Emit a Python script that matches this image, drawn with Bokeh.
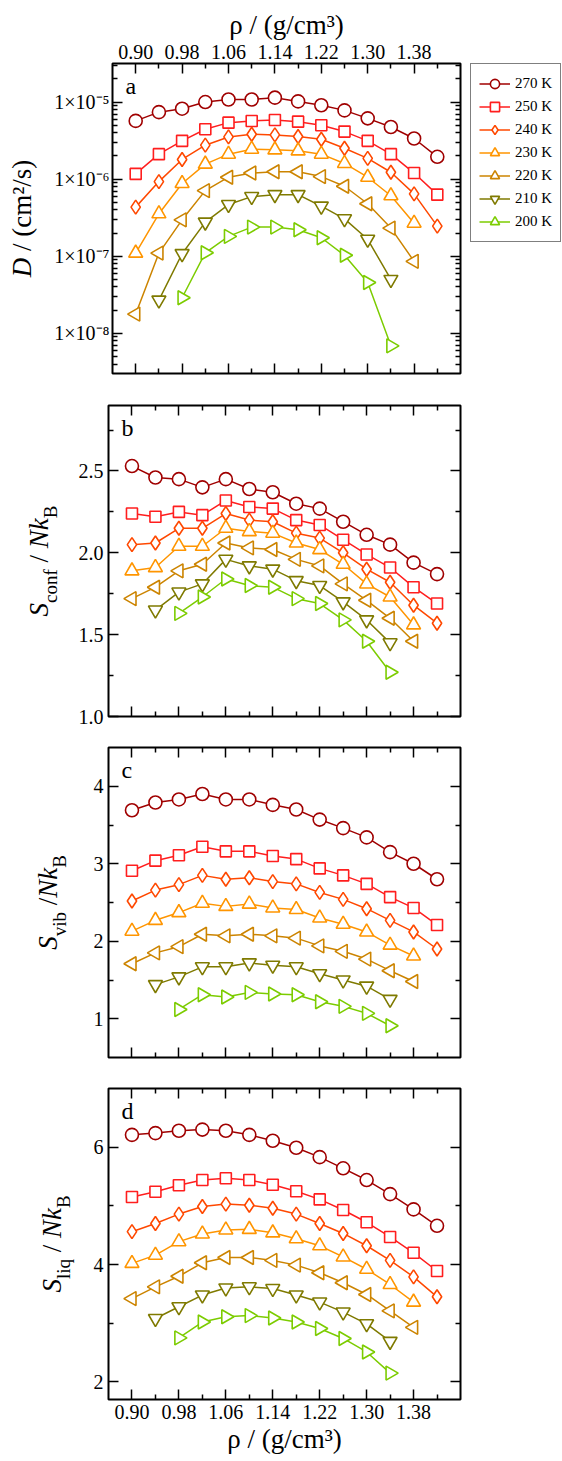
import math
from bokeh.plotting import figure
from bokeh.models import (FixedTicker, LinearAxis, LogAxis, Legend, LegendItem, Label,
                          Range1d, CustomJSTickFormatter)
from bokeh.layouts import column, row
from bokeh.embed import file_html
from bokeh.resources import INLINE

# ---------------- data ----------------
TEMPS = ["270 K", "250 K", "240 K", "230 K", "220 K", "210 K", "200 K"]

RHO_270 = [0.90, 0.94, 0.98, 1.02, 1.06, 1.10, 1.14, 1.18, 1.22, 1.26, 1.30, 1.34, 1.38, 1.42]
RHO_250 = [0.90, 0.94, 0.98, 1.02, 1.06, 1.10, 1.14, 1.18, 1.22, 1.26, 1.30, 1.34, 1.38, 1.42]
RHO_240 = [0.90, 0.94, 0.98, 1.02, 1.06, 1.10, 1.14, 1.18, 1.22, 1.26, 1.30, 1.34, 1.38, 1.42]
RHO_230 = [0.90, 0.94, 0.98, 1.02, 1.06, 1.10, 1.14, 1.18, 1.22, 1.26, 1.30, 1.34, 1.38]
RHO_220 = [0.90, 0.94, 0.98, 1.02, 1.06, 1.10, 1.14, 1.18, 1.22, 1.26, 1.30, 1.34, 1.38]
RHO_210 = [0.94, 0.98, 1.02, 1.06, 1.10, 1.14, 1.18, 1.22, 1.26, 1.30, 1.34]
RHO_200 = [0.98, 1.02, 1.06, 1.10, 1.14, 1.18, 1.22, 1.26, 1.30, 1.34]

# D / (cm^2/s)
D_270 = [5.7e-6, 7.4e-6, 8.2e-6, 1.0e-5, 1.08e-5, 1.08e-5, 1.14e-5, 1.02e-5, 9.1e-6, 7.8e-6, 6.15e-6, 4.75e-6, 3.37e-6, 1.95e-6]
D_250 = [1.17e-6, 2.11e-6, 3.14e-6, 4.44e-6, 5.41e-6, 5.69e-6, 5.86e-6, 5.57e-6, 5.0e-6, 4.14e-6, 3.14e-6, 2.11e-6, 1.2e-6, 6.3e-7]
D_240 = [4.34e-7, 9.3e-7, 1.8e-6, 2.76e-6, 3.53e-6, 3.83e-6, 3.75e-6, 3.57e-6, 3.3e-6, 2.52e-6, 1.86e-6, 1.23e-6, 6.44e-7, 2.46e-7]
D_230 = [1.1e-7, 3.56e-7, 8.8e-7, 1.57e-6, 2.11e-6, 2.45e-6, 2.4e-6, 2.33e-6, 2.11e-6, 1.6e-6, 1.06e-6, 6.1e-7, 2.69e-7]
D_220 = [1.78e-8, 1.1e-7, 2.97e-7, 7.1e-7, 1.06e-6, 1.2e-6, 1.25e-6, 1.25e-6, 1.08e-6, 8.1e-7, 4.8e-7, 2.32e-7, 8.6e-8]
D_210 = [2.7e-8, 1.08e-7, 2.77e-7, 4.69e-7, 5.94e-7, 6.3e-7, 6.3e-7, 4.46e-7, 3.06e-7, 1.66e-7, 5.0e-8]
D_200 = [2.9e-8, 1.11e-7, 1.81e-7, 2.39e-7, 2.39e-7, 2.21e-7, 1.74e-7, 1.03e-7, 4.57e-8, 6.9e-9]

# S_conf / N k_B
SC_270 = [2.53, 2.46, 2.45, 2.40, 2.45, 2.39, 2.37, 2.30, 2.27, 2.19, 2.11, 2.05, 1.94, 1.87]
SC_250 = [2.24, 2.22, 2.25, 2.23, 2.32, 2.28, 2.27, 2.20, 2.17, 2.08, 1.99, 1.91, 1.79, 1.69]
SC_240 = [2.05, 2.06, 2.15, 2.15, 2.24, 2.20, 2.19, 2.12, 2.09, 2.00, 1.90, 1.82, 1.68, 1.57]
SC_230 = [1.89, 1.91, 2.04, 2.04, 2.15, 2.13, 2.12, 2.06, 2.02, 1.93, 1.81, 1.73, 1.56]
SC_220 = [1.72, 1.79, 1.89, 1.93, 2.06, 2.03, 2.02, 1.96, 1.92, 1.81, 1.71, 1.60, 1.46]
SC_210 = [1.65, 1.76, 1.81, 1.96, 1.92, 1.90, 1.83, 1.80, 1.70, 1.59, 1.45]
SC_200 = [1.63, 1.73, 1.84, 1.80, 1.79, 1.72, 1.69, 1.59, 1.46, 1.27]

# S_vib / N k_B
SV_270 = [3.69, 3.79, 3.83, 3.90, 3.83, 3.83, 3.76, 3.70, 3.57, 3.46, 3.34, 3.15, 3.00, 2.80]
SV_250 = [2.91, 3.04, 3.11, 3.22, 3.16, 3.16, 3.10, 3.06, 2.94, 2.85, 2.74, 2.57, 2.43, 2.21]
SV_240 = [2.52, 2.66, 2.73, 2.85, 2.80, 2.82, 2.77, 2.74, 2.63, 2.54, 2.42, 2.27, 2.12, 1.90]
SV_230 = [2.13, 2.27, 2.37, 2.49, 2.45, 2.48, 2.43, 2.41, 2.30, 2.22, 2.12, 1.95, 1.81]
SV_220 = [1.71, 1.85, 1.93, 2.09, 2.07, 2.09, 2.07, 2.04, 1.94, 1.87, 1.77, 1.62, 1.48]
SV_210 = [1.44, 1.54, 1.67, 1.67, 1.72, 1.69, 1.67, 1.58, 1.50, 1.42, 1.25]
SV_200 = [1.12, 1.31, 1.28, 1.34, 1.32, 1.31, 1.22, 1.16, 1.07, 0.91]

# S_liq / N k_B
SL_270 = [6.21, 6.24, 6.28, 6.30, 6.28, 6.21, 6.11, 5.99, 5.83, 5.64, 5.44, 5.20, 4.94, 4.66]
SL_250 = [5.15, 5.24, 5.35, 5.44, 5.47, 5.44, 5.36, 5.25, 5.11, 4.93, 4.72, 4.47, 4.20, 3.89]
SL_240 = [4.56, 4.70, 4.86, 4.99, 5.03, 5.01, 4.96, 4.86, 4.70, 4.53, 4.32, 4.07, 3.79, 3.45]
SL_230 = [4.02, 4.16, 4.39, 4.52, 4.59, 4.60, 4.54, 4.44, 4.32, 4.13, 3.92, 3.66, 3.36]
SL_220 = [3.42, 3.62, 3.80, 4.03, 4.12, 4.12, 4.07, 3.99, 3.86, 3.69, 3.49, 3.21, 2.93]
SL_210 = [3.08, 3.28, 3.48, 3.60, 3.62, 3.59, 3.48, 3.36, 3.19, 2.99, 2.69]
SL_200 = [2.75, 3.02, 3.11, 3.13, 3.09, 3.02, 2.91, 2.74, 2.51, 2.15]

# ticks / labels
X_MAJOR = [0.90, 0.98, 1.06, 1.14, 1.22, 1.30, 1.38]
X_MAJOR_LABELS = ["0.90", "0.98", "1.06", "1.14", "1.22", "1.30", "1.38"]
X_MINOR = [0.94, 1.02, 1.10, 1.18, 1.26, 1.34, 1.42]
X_LABEL = "ρ / (g/cm³)"
D_TICKS = [1e-8, 1e-7, 1e-6, 1e-5]
D_TICK_LABELS = ["1×10⁻⁸", "1×10⁻⁷", "1×10⁻⁶", "1×10⁻⁵"]
SC_TICKS = [1.0, 1.5, 2.0, 2.5]
SC_TICK_LABELS = ["1.0", "1.5", "2.0", "2.5"]
SV_TICKS = [1, 2, 3, 4]
SV_TICK_LABELS = ["1", "2", "3", "4"]
SL_TICKS = [2, 4, 6]
SL_TICK_LABELS = ["2", "4", "6"]

RHOS = [RHO_270, RHO_250, RHO_240, RHO_230, RHO_220, RHO_210, RHO_200]
D_ALL = [D_270, D_250, D_240, D_230, D_220, D_210, D_200]

# ---------------- styles ----------------
COLORS = ["#a00000", "#ff1e1e", "#ff4800", "#ff9500", "#cc8400", "#7f7a00", "#7ccc00"]
MARKERS = ["circle", "square", "diamond", "triangle", "triangle", "inverted_triangle", "triangle"]
ANGLES = [0, 0, 0, 0, math.pi / 2, 0, -math.pi / 2]
SIZES = [13, 11, 14, 14, 14, 14, 14]
FONT = "Liberation Serif"
FRAME_W = 352
RB = 10
NB = "\u00a0"
TITLE_PX = 27
SUB_PX = 19

WIDTHS = {" ": 250, NB: 250, "/": 278, "(": 333, ")": 333, "c": 444, "m": 778, "s": 389,
          "o": 500, "n": 500, "f": 333, "v": 500, "i": 278, "b": 500, "l": 278, "q": 500,
          "B": 667, "²": 300, "D": 722, "S": 556, "N": 722, "k": 500}
WIDTHS_IT = {"D": 722, "S": 500, "N": 667, "k": 444}


def text_w(s, size, italic):
    tot = 0
    for ch in s:
        if italic and ch in WIDTHS_IT:
            tot += WIDTHS_IT[ch]
        else:
            tot += WIDTHS.get(ch, 500)
    return tot * size / 1000.0


def style_axis(ax, labels=True):
    ax.major_tick_in = 10
    ax.major_tick_out = 0
    ax.minor_tick_in = 5
    ax.minor_tick_out = 0
    ax.major_tick_line_width = 1.5
    ax.minor_tick_line_width = 1.5
    ax.major_tick_line_color = "black"
    ax.minor_tick_line_color = "black"
    ax.axis_line_color = None
    ax.major_label_text_font = FONT
    ax.major_label_text_color = "black"
    ax.axis_label_text_font = FONT
    ax.axis_label_text_font_style = "normal"
    ax.axis_label_text_font_size = f"{TITLE_PX}px"
    ax.axis_label_text_color = "black"
    if labels:
        ax.major_label_text_font_size = "20px"
        ax.major_label_standoff = 5
    else:
        ax.formatter = CustomJSTickFormatter(code="return ''")
        ax.major_label_text_font_size = "1px"
        ax.major_label_standoff = 0


def make_fig(height, top, bottom, left, y_range, y_ticks, y_minor, y_labels, log=False,
             x_labels_where=None):
    p = figure(width=left + FRAME_W + RB, height=height, x_range=Range1d(0.86, 1.46),
               y_range=y_range, y_axis_type="log" if log else "linear",
               x_axis_location="above" if x_labels_where == "above" else "below",
               output_backend="svg", toolbar_location=None,
               min_border_left=left, min_border_right=RB,
               min_border_top=top, min_border_bottom=bottom)
    p.grid.visible = False
    p.outline_line_color = "black"
    p.outline_line_width = 2
    p.background_fill_color = "white"
    p.border_fill_color = "white"

    xt = FixedTicker(ticks=X_MAJOR, minor_ticks=X_MINOR)
    yt = FixedTicker(ticks=y_ticks, minor_ticks=y_minor)

    xa = p.xaxis[0]
    xa.ticker = xt
    if x_labels_where is not None:
        style_axis(xa, True)
        xa.major_label_overrides = {t: l for t, l in zip(X_MAJOR, X_MAJOR_LABELS)}
        xa.axis_label = X_LABEL
        xa.axis_label_standoff = 2
    else:
        style_axis(xa, False)
    other = "below" if x_labels_where == "above" else "above"
    xa2 = LinearAxis(ticker=xt)
    style_axis(xa2, False)
    p.add_layout(xa2, other)

    ya = p.yaxis[0]
    ya.ticker = yt
    style_axis(ya, True)
    if log:
        ya.major_label_standoff = 3
    ya.major_label_overrides = {t: l for t, l in zip(y_ticks, y_labels)}
    ya2 = (LogAxis if log else LinearAxis)(ticker=yt)
    style_axis(ya2, False)
    p.add_layout(ya2, "right")
    return p


def blank_fig(width, height, x_range=(0, 1)):
    f = figure(width=width, height=height, x_range=Range1d(*x_range), y_range=Range1d(0, 1),
               x_axis_type=None, y_axis_type=None, output_backend="svg",
               toolbar_location=None, min_border=0)
    f.min_border_left = 0
    f.min_border_right = 0
    f.min_border_top = 0
    f.min_border_bottom = 0
    f.outline_line_color = None
    f.background_fill_color = "white"
    f.border_fill_color = "white"
    return f


def add_series(p, ys):
    for i, (xs, yv) in enumerate(zip(RHOS, ys)):
        c = COLORS[i]
        p.line(xs, yv, line_color=c, line_width=1.5)
        p.scatter(xs, yv, marker=MARKERS[i], angle=ANGLES[i], size=SIZES[i],
                  line_color=c, fill_color="white", line_width=1.6)


def add_letter(p, letter, frame_h):
    p.add_layout(Label(x=13, y=frame_h - 9, x_units="screen", y_units="screen", text=letter,
                       text_font=FONT, text_font_size="24px", text_baseline="top",
                       text_align="left", text_color="black"))


def ylabel_fig(width, height, pieces, xbase):
    f = blank_fig(width, height)
    total = sum(text_w(s, sz, st == "italic") for s, sz, st, dx in pieces)
    off = -total / 2.0
    for s, sz, st, dx in pieces:
        f.add_layout(Label(x=xbase + dx, y=0.5, x_units="screen", y_units="data",
                           y_offset=off, text=s,
                           angle=math.pi / 2, text_font=FONT, text_font_size=f"{sz}px",
                           text_font_style=st, text_align="left",
                           text_baseline="alphabetic", text_color="black"))
        off += text_w(s, sz, st == "italic")
    return f


def legend_fig(width, height):
    # renderers sit outside this figure's visible x range; only their legend glyphs show
    f = blank_fig(width, height, x_range=(10, 11))
    items = []
    for i, t in enumerate(TEMPS):
        c = COLORS[i]
        lr = f.line(RHOS[i], [0.5] * len(RHOS[i]), line_color=c, line_width=1.5)
        sr = f.scatter(RHOS[i], [0.5] * len(RHOS[i]), marker=MARKERS[i], angle=ANGLES[i],
                       size=SIZES[i], line_color=c, fill_color="white", line_width=1.6)
        items.append(LegendItem(label=t, renderers=[lr, sr]))
    leg = Legend(items=items, location="top_left", margin=0, padding=8,
                 spacing=0, glyph_width=31, glyph_height=23, label_height=23,
                 label_standoff=5, label_text_font=FONT, label_text_font_size="15px",
                 label_text_color="black",
                 border_line_color="black", border_line_width=1.5,
                 background_fill_color="white", background_fill_alpha=1.0)
    f.add_layout(leg)
    return f


SUB_DX = 12
Y_PIECES_A = [("D", TITLE_PX, "italic", 0), (NB + "/ (cm²/s)", TITLE_PX, "normal", 0)]
Y_PIECES_B = [("S", TITLE_PX, "italic", 0), ("conf", SUB_PX, "normal", SUB_DX),
              (NB + "/" + NB, TITLE_PX, "normal", 0), ("Nk", TITLE_PX, "italic", 0),
              ("B", SUB_PX, "normal", SUB_DX)]
Y_PIECES_C = [("S", TITLE_PX, "italic", 0), ("vib", SUB_PX, "normal", SUB_DX),
              (NB + "/", TITLE_PX, "normal", 0), ("Nk", TITLE_PX, "italic", 0),
              ("B", SUB_PX, "normal", SUB_DX)]
Y_PIECES_D = [("S", TITLE_PX, "italic", 0), ("liq", SUB_PX, "normal", SUB_DX),
              (NB + "/" + NB, TITLE_PX, "normal", 0), ("Nk", TITLE_PX, "italic", 0),
              ("B", SUB_PX, "normal", SUB_DX)]

# ---------------- panel a ----------------
ha, ta, ba = 389, 63, 16
la_w = 51
pa = make_fig(ha, ta, ba, 108 - la_w, Range1d(10 ** -8.52, 10 ** -4.5), D_TICKS,
              [k * 10.0 ** e for e in range(-9, -4) for k in range(2, 10)], D_TICK_LABELS,
              log=True, x_labels_where="above")
add_series(pa, D_ALL)
add_letter(pa, "a", ha - ta - ba)
lab_a = ylabel_fig(la_w, ha, Y_PIECES_A, 21)
leg_a = legend_fig(562 - 108 - FRAME_W - RB, ha)

# ---------------- panel b ----------------
hb, tb, bb = 343, 16, 16
lb_w = 74
pb = make_fig(hb, tb, bb, 108 - lb_w, Range1d(1.0, 2.9), SC_TICKS, [1.25, 1.75, 2.25, 2.75],
              SC_TICK_LABELS)
add_series(pb, [SC_270, SC_250, SC_240, SC_230, SC_220, SC_210, SC_200])
add_letter(pb, "b", hb - tb - bb)
lab_b = ylabel_fig(lb_w, hb, Y_PIECES_B, 38)

# ---------------- panel c ----------------
hc, tc, bc = 341, 15, 16
lc_w = 82
pc = make_fig(hc, tc, bc, 108 - lc_w, Range1d(0.5, 4.5), SV_TICKS, [1.5, 2.5, 3.5],
              SV_TICK_LABELS)
add_series(pc, [SV_270, SV_250, SV_240, SV_230, SV_220, SV_210, SV_200])
add_letter(pc, "c", hc - tc - bc)
lab_c = ylabel_fig(lc_w, hc, Y_PIECES_C, 47)

# ---------------- panel d ----------------
hd, td, bd = 386, 15, 60
ld_w = 86
pd_ = make_fig(hd, td, bd, 108 - ld_w, Range1d(1.7, 7.0), SL_TICKS, [3, 5], SL_TICK_LABELS,
               x_labels_where="below")
add_series(pd_, [SL_270, SL_250, SL_240, SL_230, SL_220, SL_210, SL_200])
add_letter(pd_, "d", hd - td - bd)
lab_d = ylabel_fig(ld_w, hd, Y_PIECES_D, 51)

layout = column(row(lab_a, pa, leg_a, spacing=0), row(lab_b, pb, spacing=0),
                row(lab_c, pc, spacing=0), row(lab_d, pd_, spacing=0), spacing=0)
open("out.html", "w").write(file_html(layout, INLINE))
